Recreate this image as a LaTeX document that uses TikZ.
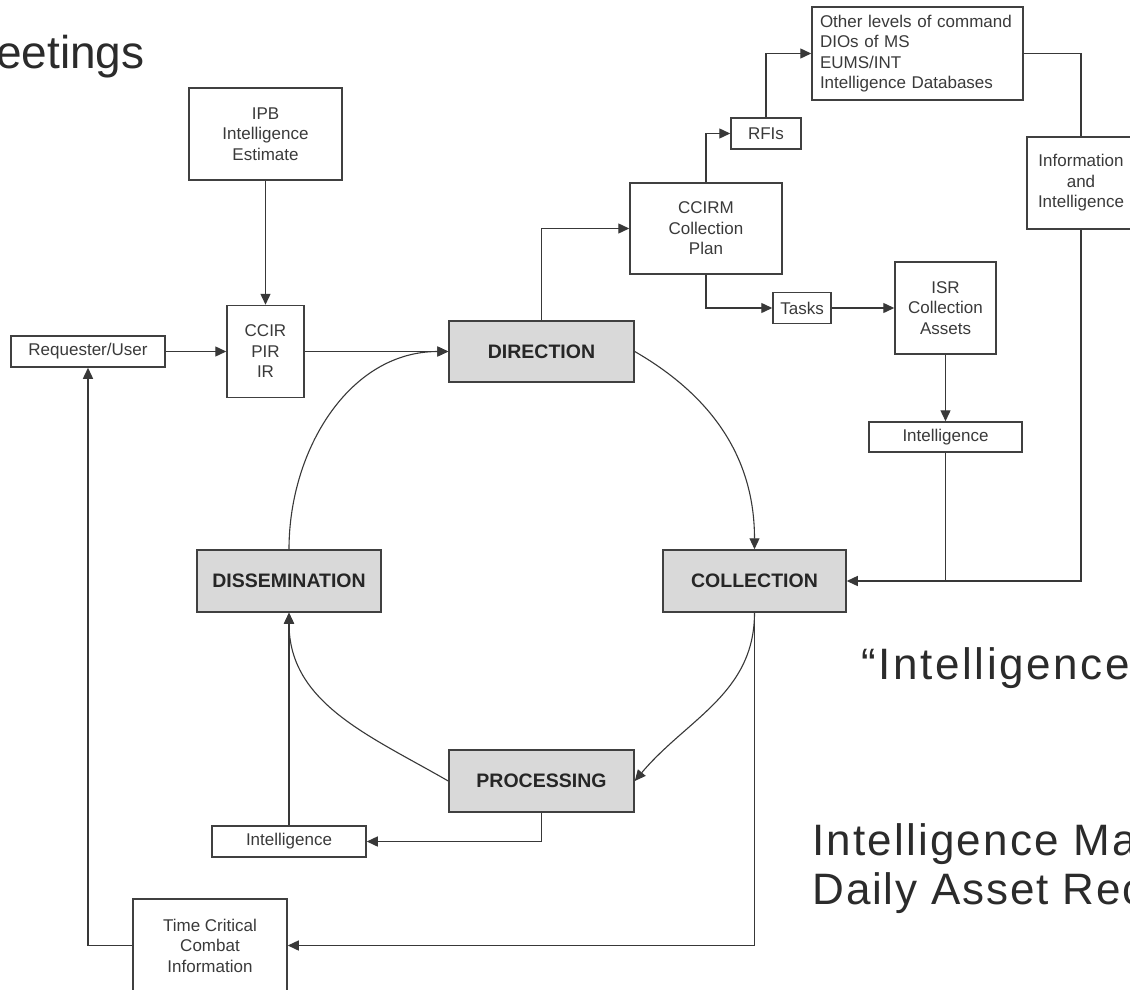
\documentclass[tikz,border=0pt]{standalone}
\usepackage{fontspec}
\setmainfont{Liberation Sans}
\newfontfamily\bigzero{Liberation Sans}
\newfontfamily\bigfour[LetterSpace=4]{Liberation Sans}
\newfontfamily\bigfive[LetterSpace=5]{Liberation Sans}
\newfontfamily\bigsix[LetterSpace=6]{Liberation Sans}
\usetikzlibrary{arrows.meta}
\definecolor{boxc}{HTML}{404040}
\definecolor{linec}{HTML}{383838}
\definecolor{txt}{HTML}{3A3A3A}
\definecolor{mainfill}{HTML}{D9D9D9}
\definecolor{bigtxt}{HTML}{2B2B2B}
\begin{document}
\begin{tikzpicture}[x=1pt,y=1pt,
  box/.style={draw=boxc, line width=1.5pt, fill=white, inner sep=0pt, text=txt,
    align=center, font=\fontsize{17}{20.5}\selectfont},
  mainbox/.style={box, fill=mainfill, text=black!85, font=\fontsize{19.5}{22}\selectfont\bfseries},
  conn/.style={draw=linec, line width=1.4pt},
  arr/.style={conn, -{Triangle[length=11pt,width=10pt]}},
  curve/.style={draw=linec, line width=1.1pt, -{Triangle[length=11pt,width=10pt]}},
  bigt/.style={anchor=base west, inner sep=0pt, text=bigtxt}
]
\path[use as bounding box, clip] (0,0) rectangle (1130,-990);
\fill[white] (0,0) rectangle (1130,-990);

% nodes
\node[box, minimum width=153pt, minimum height=92pt] (ipb) at (265.5,-134) {IPB\\Intelligence\\Estimate};
\node[box, minimum width=77pt, minimum height=92pt] (ccir) at (265.5,-351.5) {CCIR\\PIR\\IR};
\node[box, minimum width=154pt, minimum height=31pt] (req) at (88,-351.5) {Requester/User};
\node[mainbox, minimum width=185pt, minimum height=61pt] (dir) at (541.5,-351.5) {DIRECTION};
\node[box, minimum width=152pt, minimum height=91pt] (ccirm) at (706,-228.5) {CCIRM\\Collection\\Plan};
\node[box, minimum width=70pt, minimum height=31pt] (rfis) at (766,-133.5) {RFIs};
\node[box, minimum height=93pt, text width=195pt, inner xsep=8pt, align=left] (other) at (917.5,-53.5)
  {Other levels of command\\DIOs of MS\\EUMS/INT\\Intelligence Databases};
\node[box, minimum width=108pt, minimum height=92pt] (info) at (1081,-183) {Information\\and\\Intelligence};
\node[box, minimum width=58pt, minimum height=31pt] (tasks) at (802,-308) {Tasks};
\node[box, minimum width=101pt, minimum height=92pt] (isr) at (945.5,-308) {ISR\\Collection\\Assets};
\node[box, minimum width=153pt, minimum height=30pt] (intel1) at (945.5,-437) {Intelligence};
\node[mainbox, minimum width=183pt, minimum height=62pt] (coll) at (754.5,-581) {COLLECTION};
\node[mainbox, minimum width=185pt, minimum height=62pt] (proc) at (541.5,-781) {PROCESSING};
\node[mainbox, minimum width=184pt, minimum height=62pt] (diss) at (289,-581) {DISSEMINATION};
\node[box, minimum width=154pt, minimum height=31pt] (intel2) at (289,-841.5) {Intelligence};
\node[box, minimum width=154pt, minimum height=93pt] (tcci) at (210,-945.5) {Time Critical\\Combat\\Information};

% straight connectors
\draw[arr] (ipb) -- (ccir);
\draw[arr] (req) -- (ccir);
\draw[arr] (ccir) -- (dir);
\draw[arr] (dir.north) |- (ccirm.west);
\draw[arr] (ccirm.north) |- (rfis.west);
\draw[arr] (rfis.north) |- (other.west);
\draw[conn] (other.east) -| (info.north);
\draw[arr] (info.south) |- (coll.east);
\draw[arr] (ccirm.south) |- (tasks.west);
\draw[arr] (tasks) -- (isr);
\draw[arr] (isr) -- (intel1);
\coordinate (join) at (intel1.south |- coll.east);
\draw[conn] (intel1.south) -- (join);
\draw[arr] (coll.south) |- (tcci.east);
\draw[arr] (tcci.west) -| (req.south);
\draw[arr] (proc.south) |- (intel2.east);
\draw[arr] (intel2) -- (diss);

% cycle curves
\draw[curve] (dir.east) to[out=-30,in=90] (coll.north);
\draw[curve] (coll.south) to[out=-90,in=50] (proc.east);
\draw[curve] (proc.west) to[out=150,in=-90] (diss.south);
\draw[curve] (diss.north) to[out=90,in=180] (dir.west);

% large slide texts
\node[bigt, font=\bigzero\fontsize{46}{46}\selectfont] (t1) at (-4,-69) {eetings};
\node[bigt, font=\bigsix\fontsize{44}{44}\selectfont] (t2) at (861,-679) {“Intelligence};
\node[bigt, font=\bigfive\fontsize{44}{44}\selectfont] (t3) at (812,-855) {Intelligence Ma};
\node[bigt, font=\bigfour\fontsize{44}{44}\selectfont] (t4) at (812.5,-904) {Daily Asset Rec};
\end{tikzpicture}
\end{document}
